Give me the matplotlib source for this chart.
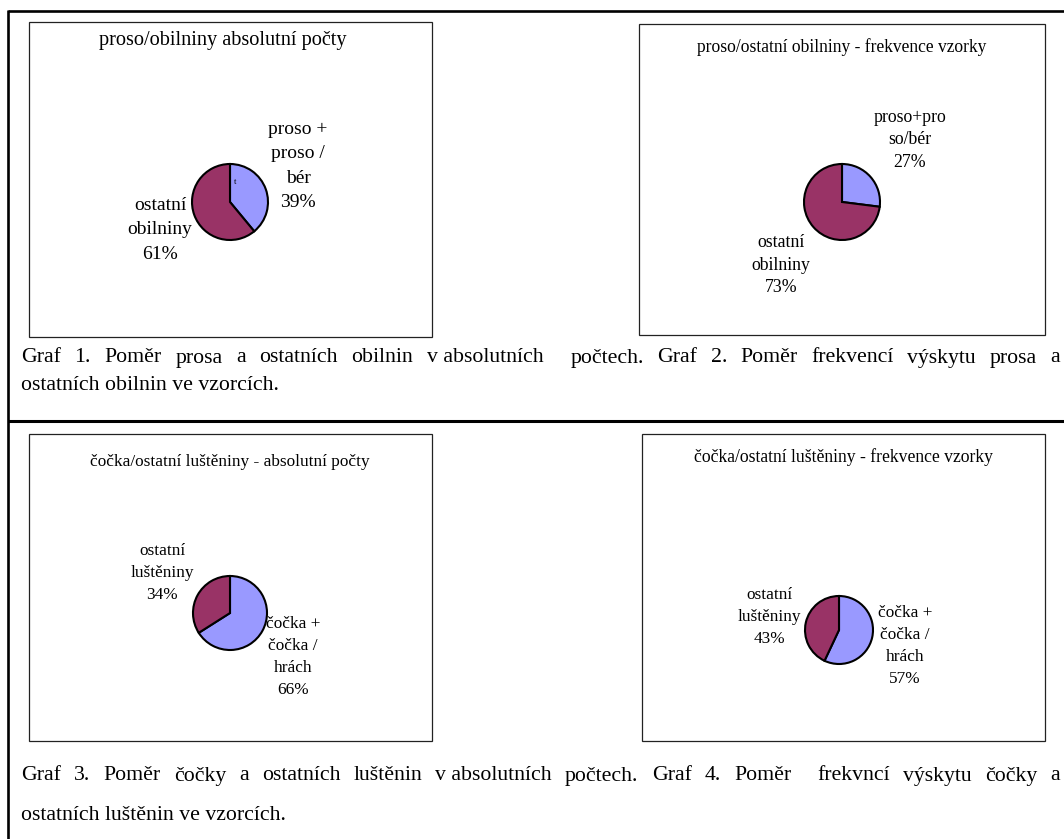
import matplotlib.pyplot as plt
from matplotlib.patches import Rectangle

plt.rcParams['font.family'] = ['Liberation Serif', 'DejaVu Serif']

W, H = 1064, 839

# pie data: first slice (blue) = proso / čočka, second (purple) = the rest
titles = ['proso/obilniny absolutní počty',
          'proso/ostatní obilniny - frekvence vzorky',
          'čočka/ostatní luštěniny - absolutní počty',
          'čočka/ostatní luštěniny - frekvence vzorky']
blue_labels = ['proso +\nproso /\nbér', 'proso+pro\nso/bér',
               'čočka +\nčočka /\nhrách', 'čočka +\nčočka /\nhrách']
red_labels = ['ostatní\nobilniny', 'ostatní\nobilniny',
              'ostatní\nluštěniny', 'ostatní\nluštěniny']
blue_pct = [39, 27, 66, 57]
red_pct = [61, 73, 34, 43]

caption_top = ['Graf 1. Poměr prosa a ostatních obilnin v\u00a0absolutních  počtech. Graf 2. Poměr frekvencí výskytu prosa a',
               'ostatních obilnin ve vzorcích.']
caption_bottom = ['Graf 3. Poměr čočky a ostatních luštěnin v\u00a0absolutních počtech. Graf 4. Poměr  frekvncí výskytu čočky a',
                  'ostatních luštěnin ve vzorcích.']

# layout in pixels (x, y from top-left)
boxes = [(29, 22, 432, 337), (639, 24, 1045, 335), (29, 434, 432, 741), (642, 434, 1045, 741)]
centers = [(230, 202, 38), (842, 202, 38), (230, 613, 37), (839, 630, 34)]
title_pos = [(223, 40, 14.6), (842, 47, 12.65), (230, 462, 12.4), (844, 457, 12.7)]
blue_pos = [(298, 166), (910, 140), (293, 657), (905, 646)]
red_pos = [(160, 230), (781, 265), (162, 573), (769, 617)]
label_fs = [14, 12.8, 12.4, 12.4]
label_ls = [1.57, 1.43, 1.5, 1.5]

BLUE = '#9999ff'
PURPLE = '#993366'

fig = plt.figure(figsize=(W / 100, H / 100), dpi=100)
ax = fig.add_axes([0, 0, 1, 1])


def Y(y):
    return H - y


for i in range(4):
    x0, y0, x1, y1 = boxes[i]
    ax.add_patch(Rectangle((x0, Y(y1)), x1 - x0, y1 - y0, fill=False,
                           edgecolor='#222222', linewidth=0.9))
    cx, cy, r = centers[i]
    ax.pie([blue_pct[i], red_pct[i]], colors=[BLUE, PURPLE], startangle=90,
           counterclock=False, center=(cx, Y(cy)), radius=r,
           wedgeprops=dict(edgecolor='black', linewidth=1.5))
    tx, ty, tfs = title_pos[i]
    ax.text(tx, Y(ty), titles[i], ha='center', va='center', fontsize=tfs)
    bx, by = blue_pos[i]
    ax.text(bx, Y(by), blue_labels[i] + '\n%d%%' % blue_pct[i], ha='center',
            va='center', fontsize=label_fs[i], linespacing=label_ls[i])
    rx, ry = red_pos[i]
    ax.text(rx, Y(ry), red_labels[i] + '\n%d%%' % red_pct[i], ha='center',
            va='center', fontsize=label_fs[i], linespacing=label_ls[i])

# stray little mark inside the first pie
ax.text(235, Y(182), 't', ha='center', va='center', fontsize=6)

ax.set_xlim(0, W)
ax.set_ylim(0, H)
ax.set_aspect('auto')
ax.axis('off')

# outer frame
ax.plot([8, W], [Y(11), Y(11)], color='black', lw=1.9, solid_capstyle='butt')
ax.plot([8, 8], [Y(10), 0], color='black', lw=1.9, solid_capstyle='butt')
ax.plot([8, W], [Y(421), Y(421)], color='black', lw=2.2, solid_capstyle='butt')

renderer = fig.canvas.get_renderer()


def justify(line, x0, x1, y, fs):
    parts = line.split(' ')
    txts = [ax.text(0, Y(y), p, fontsize=fs, va='center', ha='left') for p in parts]
    widths = [t.get_window_extent(renderer).width for t in txts]
    gap = (x1 - x0 - sum(widths)) / (len(parts) - 1)
    x = x0
    for t, w in zip(txts, widths):
        t.set_x(x)
        x += w + gap


cap_fs = 15.7
justify(caption_top[0], 21, 1060, 358, cap_fs)
ax.text(21, Y(385), caption_top[1], fontsize=cap_fs, va='center', ha='left')
justify(caption_bottom[0], 21, 1060, 776, cap_fs)
ax.text(21, Y(815), caption_bottom[1], fontsize=cap_fs, va='center', ha='left')

fig.savefig('out.png', dpi=100, facecolor='white')
